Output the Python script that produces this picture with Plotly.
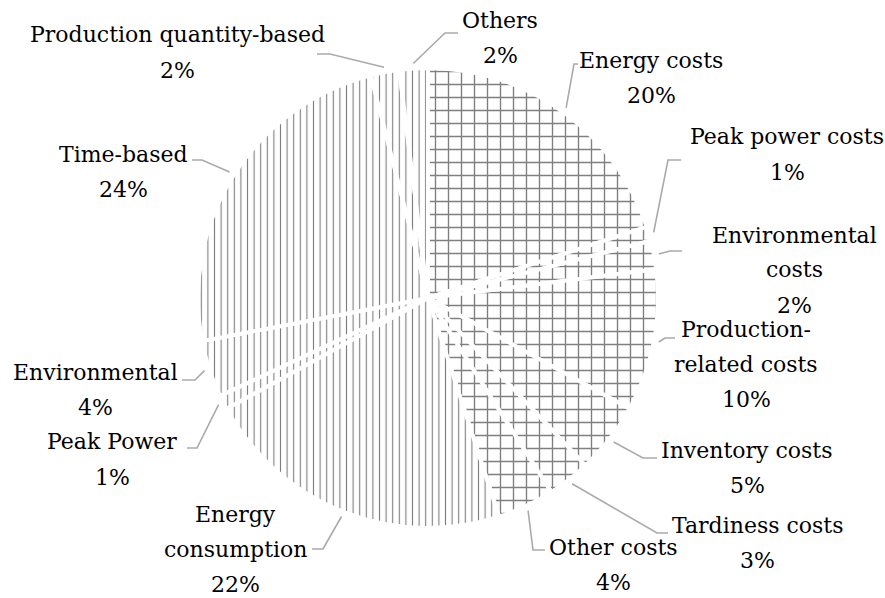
import math
import plotly.graph_objects as go

W, H = 885, 598

# ---------------- data ----------------
slice_names = ["Energy costs", "Peak power costs", "Environmental costs",
               "Production-related costs", "Inventory costs", "Tardiness costs",
               "Other costs", "Energy consumption", "Peak Power", "Environmental",
               "Time-based", "Production quantity-based", "Others"]
slice_values = [20, 1, 2, 10, 5, 3, 4, 22, 1, 4, 24, 2, 2]
slice_groups = ["costs"] * 7 + ["objective"] * 6
label_lines = [["Energy costs"], ["Peak power costs"], ["Environmental", "costs"],
               ["Production-", "related costs"], ["Inventory costs"], ["Tardiness costs"],
               ["Other costs"], ["Energy", "consumption"], ["Peak Power"], ["Environmental"],
               ["Time-based"], ["Production quantity-based"], ["Others"]]

# ---------------- layout helpers (pixels) ----------------
cx, cy, R = 428, 298, 230
label_x = [651, 787, 794, 746, 747, 757, 613, 235, 112, 95, 123, 177, 500]
label_base = [68, 145, 243, 337, 458, 533, 555, 522, 450, 380, 162, 43, 29]
leader_elbow = [(574, 64), (668, 160), (670, 251), (665, 338), (643, 458), (657, 533),
                (533, 550), (323, 549), (197, 448), (195, 380), (202, 160), (330, 54),
                (445, 33)]
leader_end = [(578, 64), (681, 160), (682, 251), (675, 338), (657, 458), (668, 533),
              (545, 550), (312, 549), (187, 448), (182, 380), (192, 160), (317, 54),
              (458, 33)]
LINE_H = 35
FONT = dict(family="DejaVu Serif", size=22, color="#000000")


def px(x):
    return x / W


def py(y):
    return 1 - y / H


shapes_map = {"costs": "+", "objective": "|"}
pattern_shapes = [shapes_map[g] for g in slice_groups]
pattern_sizes = [13 if g == "costs" else 6.6 for g in slice_groups]
pattern_sol = [0.2 if g == "costs" else 0.17 for g in slice_groups]

fig = go.Figure(go.Pie(
    labels=slice_names,
    values=slice_values,
    sort=False,
    direction="clockwise",
    rotation=0,
    textinfo="none",
    hoverinfo="label+percent",
    showlegend=False,
    domain=dict(x=[px(cx - R), px(cx + R)], y=[py(cy + R), py(cy - R)]),
    marker=dict(
        colors=["#ffffff"] * len(slice_values),
        line=dict(color="#ffffff", width=4),
        pattern=dict(shape=pattern_shapes, fgcolor="#7f7f7f", bgcolor="#ffffff",
                     size=pattern_sizes, solidity=pattern_sol, fillmode="replace"),
    ),
))

total = sum(slice_values)
cum = 0
annotations = []
shapes = []
for i, v in enumerate(slice_values):
    mid = (cum + v / 2) / total * 2 * math.pi
    cum += v
    sx = cx + (R + 5) * math.sin(mid)
    sy = cy - (R + 5) * math.cos(mid)
    ex, ey = leader_elbow[i]
    tx, ty = leader_end[i]
    shapes.append(dict(
        type="path", xref="paper", yref="paper",
        path=f"M {px(sx)},{py(sy)} L {px(ex)},{py(ey)} L {px(tx)},{py(ty)}",
        line=dict(color="#aaaaaa", width=1.6),
    ))
    pct = f"{round(100 * v / total)}%"
    lines = label_lines[i] + [pct]
    for j, t in enumerate(lines):
        base = label_base[i] + j * LINE_H
        annotations.append(dict(
            text=t, x=px(label_x[i]), y=py(base - 8), xref="paper", yref="paper",
            xanchor="center", yanchor="middle", showarrow=False, font=FONT,
        ))

fig.update_layout(
    width=W, height=H,
    margin=dict(l=0, r=0, t=0, b=0),
    paper_bgcolor="#ffffff", plot_bgcolor="#ffffff",
    annotations=annotations, shapes=shapes,
)

fig.write_html("out.html", config={"displayModeBar": False},
               post_script="document.body.style.margin='0';document.body.style.overflow='hidden';")
